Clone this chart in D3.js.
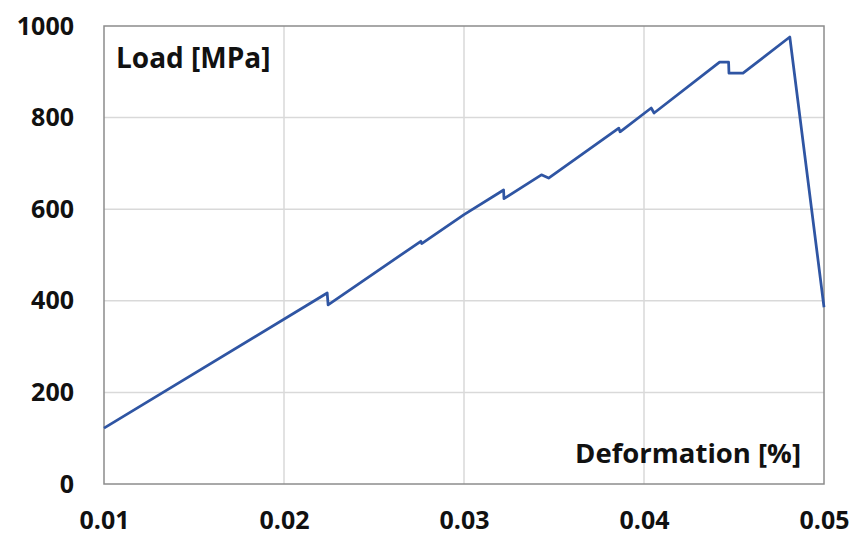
<!DOCTYPE html>
<html>
<head>
<meta charset="utf-8">
<script src="https://cdn.jsdelivr.net/npm/d3@7"></script>
<style>
  body { margin: 0; background: #fff; }
</style>
</head>
<body>
<script>
// readings: deformation [%] and load [MPa]
const deformation = [0.0100, 0.0224, 0.02245, 0.0276, 0.02765, 0.0300, 0.0322, 0.03222, 0.0343, 0.0347,
  0.0386, 0.03867, 0.0404, 0.04056, 0.0442, 0.0447, 0.04472, 0.0455, 0.0481, 0.0500]
const load = [122, 417, 391, 530, 525, 588, 642, 623, 675, 668,
  777, 769, 821, 810, 921, 921, 897, 897, 976, 386]
const xTicks = [0.01, 0.02, 0.03, 0.04, 0.05]
const yTicks = [0, 200, 400, 600, 800, 1000]

const data = deformation.map((d, i) => ({ x: d, y: load[i] }))

const width = 852
const height = 536
const plot = { left: 104, right: 824, top: 26, bottom: 484 }
const font = '"Open Sans", sans-serif'

const x = d3.scaleLinear()
  .domain([0.01, 0.05])
  .range([plot.left, plot.right])

const y = d3.scaleLinear()
  .domain([0, 1000])
  .range([plot.bottom, plot.top])

const svg = d3.select('body')
  .append('svg')
    .attr('width', width)
    .attr('height', height)
    .attr('font-family', font)
    .attr('font-weight', 'bold')

// gridlines
svg.append('g')
  .selectAll('line')
  .data(yTicks.slice(1, -1))
  .join('line')
    .attr('x1', plot.left)
    .attr('x2', plot.right)
    .attr('y1', (d) => y(d))
    .attr('y2', (d) => y(d))
    .attr('stroke', '#d9d9d9')
    .attr('stroke-width', 1.5)

svg.append('g')
  .selectAll('line')
  .data(xTicks.slice(1, -1))
  .join('line')
    .attr('x1', (d) => x(d))
    .attr('x2', (d) => x(d))
    .attr('y1', plot.top)
    .attr('y2', plot.bottom)
    .attr('stroke', '#d9d9d9')
    .attr('stroke-width', 1.5)

// frame
svg.append('rect')
  .attr('x', plot.left)
  .attr('y', plot.top)
  .attr('width', plot.right - plot.left)
  .attr('height', plot.bottom - plot.top)
  .attr('fill', 'none')
  .attr('stroke', '#8c8c8c')
  .attr('stroke-width', 1.5)

// axes (labels only)
const axisY = d3.axisLeft(y).tickValues(yTicks).tickSize(0).tickPadding(30)
  .tickFormat(d3.format('d'))
svg.append('g')
  .attr('transform', 'translate(' + plot.left + ',0)')
  .call(axisY)
  .call((g) => g.select('.domain').remove())
  .selectAll('text')
    .attr('font-size', 25)
    .attr('font-family', font)
    .attr('font-weight', 'bold')
    .attr('fill', '#111')

const axisX = d3.axisBottom(x).tickValues(xTicks).tickSize(0).tickPadding(27)
  .tickFormat(d3.format('.2f'))
svg.append('g')
  .attr('transform', 'translate(0,' + plot.bottom + ')')
  .call(axisX)
  .call((g) => g.select('.domain').remove())
  .selectAll('text')
    .attr('font-size', 25)
    .attr('font-family', font)
    .attr('font-weight', 'bold')
    .attr('fill', '#111')

// curve
const line = d3.line()
  .x((d) => x(d.x))
  .y((d) => y(d.y))

svg.append('path')
  .datum(data)
  .attr('d', line)
  .attr('fill', 'none')
  .attr('stroke', '#2f55a3')
  .attr('stroke-width', 2.75)
  .attr('stroke-linejoin', 'round')

// in-plot titles
svg.append('text')
  .attr('x', 116)
  .attr('y', 68)
  .attr('font-size', 28)
  .attr('fill', '#111')
  .text('Load [MPa]')

svg.append('text')
  .attr('x', 801)
  .attr('y', 463)
  .attr('text-anchor', 'end')
  .attr('font-size', 27.5)
  .attr('fill', '#111')
  .text('Deformation [%]')
</script>
</body>
</html>
